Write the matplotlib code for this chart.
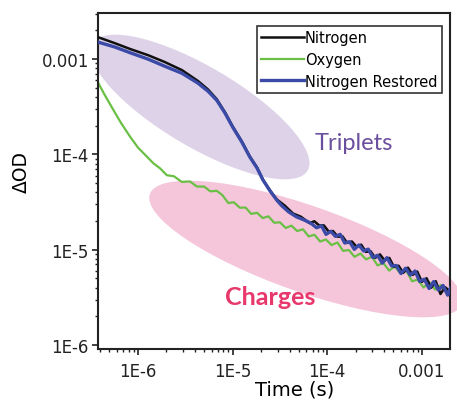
import matplotlib
matplotlib.use('Agg')
import matplotlib.pyplot as plt
from matplotlib.patches import Ellipse
from matplotlib.ticker import FixedLocator, FixedFormatter, LogLocator, NullFormatter

# data (time in s, dOD)
t_n2 = [3.78e-7, 5.7e-7, 8.4e-7, 1.28e-6, 1.93e-6, 2.92e-6, 4.3e-6, 5.5e-6,
        6.8e-6, 8.3e-6, 1.0e-5, 1.25e-5, 1.52e-5, 1.81e-5, 2.09e-5, 2.48e-5,
        2.94e-5, 3.56e-5, 4.34e-5, 5.26e-5, 6.5e-5,
        7.3e-5, 8.2e-5, 9.2e-5, 1.03e-4, 1.15e-4, 1.29e-4, 1.45e-4, 1.62e-4,
        1.82e-4, 2.04e-4, 2.28e-4, 2.56e-4, 2.87e-4, 3.21e-4, 3.6e-4,
        4.03e-4, 4.52e-4, 5.06e-4, 5.67e-4, 6.35e-4, 7.11e-4, 7.97e-4,
        8.92e-4, 1.0e-3, 1.12e-3, 1.25e-3, 1.4e-3, 1.57e-3, 1.76e-3, 1.97e-3]
od_n2 = [1.70e-3, 1.47e-3, 1.27e-3, 1.10e-3, 9.3e-4, 7.66e-4, 5.9e-4, 4.8e-4,
         3.8e-4, 2.77e-4, 1.97e-4, 1.37e-4, 9.5e-5, 7.3e-5, 5.45e-5, 4.2e-5,
         3.36e-5, 2.9e-5, 2.4e-5, 2.22e-5, 1.9e-5,
         1.99e-5, 1.80e-5, 1.80e-5, 1.56e-5, 1.57e-5, 1.37e-5, 1.38e-5, 1.18e-5,
         1.22e-5, 1.075e-5, 1.13e-5, 9.5e-6, 9.63e-6, 8.22e-6, 8.94e-6,
         7.73e-6, 8.21e-6, 6.61e-6, 6.79e-6, 5.72e-6, 6.48e-6, 5.44e-6,
         5.9e-6, 4.6e-6, 5.02e-6, 3.99e-6, 4.67e-6, 3.43e-6, 4.04e-6, 3.67e-6]

t_o2 = [3.78e-7, 4.4e-7, 5.44e-7, 6.6e-7, 8.2e-7, 1.0e-6, 1.24e-6, 1.45e-6,
        1.71e-6, 2.02e-6, 2.4e-6, 2.9e-6, 3.55e-6, 4.2e-6, 5.0e-6, 5.8e-6,
        6.8e-6, 7.8e-6, 9.0e-6, 1.03e-5, 1.19e-5, 1.37e-5, 1.57e-5, 1.81e-5,
        2.08e-5, 2.39e-5, 2.75e-5, 3.16e-5, 3.64e-5, 4.18e-5, 4.81e-5,
        5.53e-5, 6.36e-5, 7.31e-5, 8.41e-5, 9.67e-5, 1.11e-4, 1.28e-4,
        1.47e-4, 1.69e-4, 1.94e-4, 2.24e-4, 2.57e-4, 2.96e-4, 3.4e-4,
        3.91e-4, 4.5e-4, 5.17e-4, 5.95e-4, 6.84e-4, 7.87e-4, 9.05e-4,
        1.04e-3, 1.2e-3, 1.38e-3, 1.58e-3, 1.82e-3, 2.0e-3]
od_o2 = [5.7e-4, 4.3e-4, 2.98e-4, 2.15e-4, 1.55e-4, 1.18e-4, 9.5e-5, 8.1e-5,
         7.15e-5, 6.05e-5, 5.9e-5, 5.15e-5, 5.2e-5, 4.6e-5, 4.6e-5, 4.1e-5,
         4.15e-5, 3.74e-5, 3.09e-5, 3.15e-5, 2.76e-5, 2.77e-5, 2.38e-5, 2.44e-5,
         2.15e-5, 2.24e-5, 1.92e-5, 1.94e-5, 1.69e-5, 1.79e-5, 1.57e-5,
         1.64e-5, 1.38e-5, 1.435e-5, 1.22e-5, 1.28e-5, 1.12e-5, 1.19e-5,
         9.73e-6, 9.93e-6, 8.43e-6, 9.12e-6, 7.92e-6, 8.45e-6, 6.84e-6,
         7.27e-6, 6.04e-6, 6.68e-6, 5.6e-6, 6.02e-6, 4.67e-6, 4.85e-6,
         4.01e-6, 4.55e-6, 3.81e-6, 4.25e-6, 3.61e-6, 3.85e-6]

t_n2r = [3.78e-7, 5.7e-7, 8.4e-7, 1.28e-6, 1.93e-6, 2.92e-6, 4.3e-6, 5.5e-6,
         6.8e-6, 8.3e-6, 1.0e-5, 1.25e-5, 1.52e-5, 1.81e-5, 2.09e-5, 2.48e-5,
         2.94e-5, 3.3e-5, 3.9e-5, 4.7e-5, 5.7e-5, 6.7e-5,
         7.7e-5, 8.7e-5, 9.7e-5, 1.09e-4, 1.22e-4, 1.37e-4, 1.53e-4, 1.72e-4,
         1.93e-4, 2.16e-4, 2.42e-4, 2.71e-4, 3.04e-4, 3.4e-4, 3.81e-4,
         4.27e-4, 4.79e-4, 5.36e-4, 6.01e-4, 6.73e-4, 7.54e-4, 8.45e-4,
         9.46e-4, 1.06e-3, 1.19e-3, 1.33e-3, 1.49e-3, 1.67e-3, 1.87e-3, 2.0e-3]
od_n2r = [1.51e-3, 1.34e-3, 1.16e-3, 1.0e-3, 8.4e-4, 7.1e-4, 5.6e-4, 4.6e-4,
          3.7e-4, 2.72e-4, 1.94e-4, 1.35e-4, 9.4e-5, 7.2e-5, 5.4e-5, 4.15e-5,
          3.3e-5, 2.9e-5, 2.5e-5, 2.22e-5, 2.05e-5, 1.9e-5,
          1.70e-5, 1.78e-5, 1.45e-5, 1.56e-5, 1.38e-5, 1.45e-5, 1.175e-5, 1.215e-5,
          1.01e-5, 1.12e-5, 9.7e-6, 1.015e-5, 8.28e-6, 8.74e-6, 7.23e-6,
          8.25e-6, 6.75e-6, 6.83e-6, 5.63e-6, 6.4e-6, 5.42e-6, 5.98e-6,
          4.65e-6, 4.91e-6, 3.92e-6, 4.63e-6, 3.78e-6, 4.22e-6, 3.34e-6, 3.95e-6]

labels = ['Nitrogen', 'Oxygen', 'Nitrogen Restored']
xtick_vals = [1e-6, 1e-5, 1e-4, 1e-3]
xtick_labels = ['1E-6', '1E-5', '1E-4', '0.001']
ytick_vals = [1e-6, 1e-5, 1e-4, 1e-3]
ytick_labels = ['1E-6', '1E-5', '1E-4', '0.001']

plt.rcParams['font.family'] = ['DejaVu Sans']

fig = plt.figure(figsize=(4.57, 4.10), dpi=100)
ax = fig.add_axes([0.2144, 0.1463, 0.7703, 0.8196])

# shaded regions (in inches, so they keep their shape)
trip = Ellipse((2.00, 3.02), 2.50, 0.80, angle=-30.6,
               transform=fig.dpi_scale_trans, facecolor='#ddd2e8',
               edgecolor='none', zorder=0.5)
ax.add_patch(trip)
trip.set_clip_path(ax.patch)
chg = Ellipse((3.06, 1.60), 3.31, 0.86, angle=-19.4,
              transform=fig.dpi_scale_trans, facecolor='#f5c5da',
              edgecolor='none', zorder=0.5, clip_on=False)
ax.add_patch(chg)

ax.plot(t_n2, od_n2, color='#101010', lw=1.8, label=labels[0], zorder=3)
ax.plot(t_o2, od_o2, color='#6abf45', lw=1.6, label=labels[1], zorder=2)
ax.plot(t_n2r, od_n2r, color='#3a4aa6', lw=2.4, label=labels[2], zorder=4)

ax.set_xscale('log')
ax.set_yscale('log')
ax.set_xlim(3.78e-7, 1.98e-3)
ax.set_ylim(9.08e-7, 3.05e-3)

ax.xaxis.set_major_locator(FixedLocator(xtick_vals))
ax.xaxis.set_major_formatter(FixedFormatter(xtick_labels))
ax.yaxis.set_major_locator(FixedLocator(ytick_vals))
ax.yaxis.set_major_formatter(FixedFormatter(ytick_labels))
for axis in (ax.xaxis, ax.yaxis):
    axis.set_minor_locator(LogLocator(base=10, subs=range(2, 10)))
    axis.set_minor_formatter(NullFormatter())
ax.tick_params(which='major', direction='out', length=4, width=1.2,
               labelsize=12, colors='#222222', pad=2.5)
ax.tick_params(which='minor', direction='out', length=2.5, width=1,
               colors='#222222')
ax.tick_params(axis='x', pad=5)
for sp in ax.spines.values():
    sp.set_linewidth(1.5)
    sp.set_color('#222222')

ax.set_xlabel('Time (s)', fontsize=14)
ax.xaxis.set_label_coords(0.56, -0.09)
ax.set_ylabel('ΔOD', fontsize=13.5)
ax.yaxis.set_label_coords(-0.19, 0.53)

ax.text(0.727, 0.616, 'Triplets', transform=ax.transAxes, fontsize=17,
        family='Lato', color='#6a4f9e', ha='center', va='center')
ax.text(0.489, 0.155, 'Charges', transform=ax.transAxes, fontsize=18,
        family='Lato', fontweight='bold', color='#e8386b',
        ha='center', va='center')

leg = ax.legend(loc='upper right', bbox_to_anchor=(0.977, 0.961),
                fontsize=10.5, frameon=True, fancybox=False, framealpha=1,
                edgecolor='#333333', handlelength=2.9, handletextpad=0.1,
                labelspacing=0.45, borderpad=0.3, borderaxespad=0)
leg.get_frame().set_linewidth(1.2)
leg.set_zorder(6)

fig.savefig('out.png', dpi=100)
